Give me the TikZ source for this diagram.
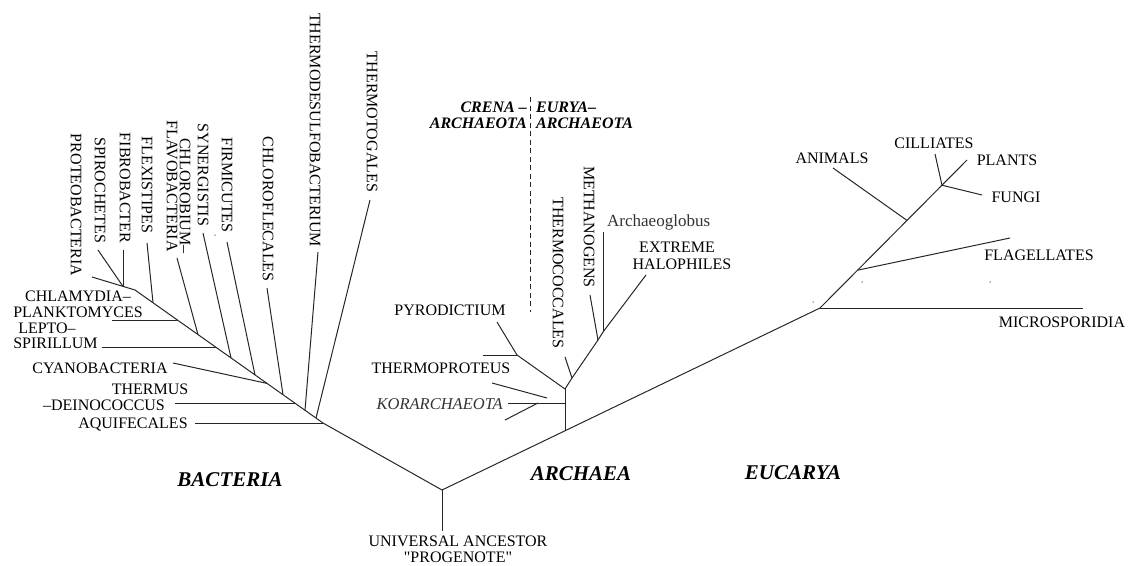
\documentclass[tikz,border=0pt]{standalone}
\usepackage{fontspec}
\setmainfont{Liberation Serif}
\begin{document}
\begin{tikzpicture}[x=1pt,y=-1pt,
  branch/.style={draw=black!85,line width=1pt},
  divider/.style={draw=black!85,line width=1pt,dash pattern=on 5pt off 3.5pt},
  lbl/.style={inner sep=0pt,text=black,font=\fontsize{16}{16}\selectfont},
  vlbl/.style={lbl,rotate=-90},
  ilbl/.style={inner sep=0pt,text=black!80,font=\fontsize{16.5}{16}\selectfont\itshape},
  slbl/.style={inner sep=0pt,text=black!80,font=\fontsize{17}{16}\selectfont},
  sublbl/.style={inner sep=0pt,text=black,font=\fontsize{16}{16}\selectfont\bfseries\itshape},
  domainlbl/.style={inner sep=0pt,text=black,font=\fontsize{21}{24}\selectfont\bfseries\itshape},
  speck/.style={fill=black!60,circle,inner sep=0pt,minimum size=1.5pt}
]
\useasboundingbox (0,0) rectangle (1135,565);

% ---------- root ----------
\coordinate (root) at (442,490);
\coordinate (stem) at (442,531);
\node[lbl,align=center] (anc) at (458,549.5) {UNIVERSAL ANCESTOR\\\textquotedbl PROGENOTE\textquotedbl};
\draw[branch] (root) -- (stem);

% ---------- Bacteria ----------
\coordinate (b0) at (323,423);
\coordinate (p0) at (135,290);
\coordinate (prTip) at (92,277);
\draw[branch] (root) -- (b0) -- (p0) -- (prTip);

\coordinate (aqTip) at (195,423);
\coordinate (tgBase) at (316,418);   \coordinate (tgTip) at (370,200);
\coordinate (tdBase) at (305,410.3); \coordinate (tdTip) at (318,252);
\coordinate (thBase) at (294.7,403); \coordinate (thTip) at (175,403);
\coordinate (cfBase) at (283,394.7); \coordinate (cfTip) at (267,288);
\coordinate (cyBase) at (267,383.4); \coordinate (cyTip) at (173,363);
\coordinate (fmBase) at (255,374.9); \coordinate (fmTip) at (227,242);
\coordinate (syBase) at (231,357.9); \coordinate (syTip) at (203,233);
\coordinate (lpBase) at (215.6,347); \coordinate (lpTip) at (102,347);
\coordinate (cbBase) at (198,334.6); \coordinate (cbTip) at (177,258);
\coordinate (clBase) at (177.4,320); \coordinate (clTip) at (112,320);
\coordinate (fxBase) at (153,302.7); \coordinate (fxTip) at (147,243);
\coordinate (sfJ) at (123,286.4);
\coordinate (spTip) at (98,250);
\coordinate (fbTip) at (123,250);

\draw[branch] (b0) -- (aqTip);
\draw[branch] (tgBase) -- (tgTip);
\draw[branch] (tdBase) -- (tdTip);
\draw[branch] (thBase) -- (thTip);
\draw[branch] (cfBase) -- (cfTip);
\draw[branch] (cyBase) -- (cyTip);
\draw[branch] (fmBase) -- (fmTip);
\draw[branch] (syBase) -- (syTip);
\draw[branch] (lpBase) -- (lpTip);
\draw[branch] (cbBase) -- (cbTip);
\draw[branch] (clBase) -- (clTip);
\draw[branch] (fxBase) -- (fxTip);
\draw[branch] (sfJ) -- (spTip);
\draw[branch] (sfJ) -- (fbTip);

\node[vlbl] (tgL) at (372,122) {THERMOTOGALES};
\node[vlbl] (tdL) at (315,130) {THERMODESULFOBACTERIUM};
\node[vlbl] (cfL) at (268,209) {CHLOROFLECALES};
\node[vlbl] (fmL) at (227,185) {FIRMICUTES};
\node[vlbl] (syL) at (203,175) {SYNERGISTIS};
\node[vlbl] (cbL) at (185,196) {CHLOROBIUM–};
\node[vlbl] (fvL) at (172,186) {FLAVOBACTERIA};
\node[vlbl] (fxL) at (147,185) {FLEXISTIPES};
\node[vlbl] (fbL) at (125,188) {FIBROBACTER};
\node[vlbl] (spL) at (100,190) {SPIROCHETES};
\node[vlbl] (prL) at (76,205) {PROTEOBACTERIA};

\node[lbl,align=center] (clL) at (78,304) {CHLAMYDIA–\\PLANKTOMYCES};
\node[lbl] (leL) at (47,328.5) {LEPTO–};
\node[lbl] (spiL) at (55.5,343.5) {SPIRILLUM};
\node[lbl] (cyL) at (100,368) {CYANOBACTERIA};
\node[lbl] (thL) at (150,389) {THERMUS};
\node[lbl] (deL) at (104,405) {–DEINOCOCCUS};
\node[lbl] (aqL) at (133,424) {AQUIFECALES};

% ---------- Archaea ----------
\coordinate (E) at (820,308);
\draw[branch] (root) -- (E);

\coordinate (A0) at (565,431);
\coordinate (A1) at (565,389);
\coordinate (K0) at (565,403);
\coordinate (kTip) at (508,403);
\coordinate (kA1) at (492,383); \coordinate (kA2) at (547,398);
\coordinate (kB1) at (505,420); \coordinate (kB2) at (538,403);
\draw[branch] (A0) -- (A1);
\draw[branch] (K0) -- (kTip);
\draw[branch] (kA1) -- (kA2);
\draw[branch] (kB1) -- (kB2);

% Crenarchaeota
\coordinate (C1) at (517,355);
\coordinate (pyTip) at (497,322);
\coordinate (tpTip) at (483,355);
\draw[branch] (A1) -- (C1) -- (pyTip);
\draw[branch] (C1) -- (tpTip);

% Euryarchaeota
\coordinate (T1) at (572,378);
\coordinate (M1) at (598,340);
\coordinate (H1) at (603,332);
\coordinate (tcTip) at (565,357);
\coordinate (mtTip) at (590,295);
\coordinate (agTip) at (603,232);
\coordinate (hlTip) at (646,275);
\draw[branch] (A1) -- (T1) -- (M1) -- (H1);
\draw[branch] (T1) -- (tcTip);
\draw[branch] (M1) -- (mtTip);
\draw[branch] (H1) -- (agTip);
\draw[branch] (H1) -- (hlTip);

% kingdom divider
\coordinate (dTop) at (530,97);
\coordinate (dBot) at (530,312);
\draw[divider] (dTop) -- (dBot);

\node[sublbl,align=right,anchor=east] (crL) at (527,115) {CRENA –\\ARCHAEOTA};
\node[sublbl,align=left,anchor=west] (euL) at (536,115) {EURYA–\\ARCHAEOTA};

\node[lbl] (pyL) at (450,310) {PYRODICTIUM};
\node[lbl] (tpL) at (441,368) {THERMOPROTEUS};
\node[ilbl,anchor=east] (koL) at (503,404) {KORARCHAEOTA};
\node[vlbl] (tcL) at (558,273) {THERMOCOCCALES};
\node[vlbl] (mtL) at (589,227) {METHANOGENS};
\node[slbl,anchor=west] (agL) at (607,222) {Archaeoglobus};
\node[lbl] (exL) at (677,247) {EXTREME};
\node[lbl] (haL) at (682,264) {HALOPHILES};

% ---------- Eucarya ----------
\coordinate (msTip) at (1083,308);
\coordinate (plTip) at (967,160);
\coordinate (flBase) at (857.5,270.2); \coordinate (flTip) at (1010,238);
\coordinate (anBase) at (907,220.4);   \coordinate (anTip) at (833,168);
\coordinate (pjBase) at (942,185.2);
\coordinate (ciTip) at (935,154);
\coordinate (fuTip) at (982,195);
\draw[branch] (E) -- (msTip);
\draw[branch] (E) -- (plTip);
\draw[branch] (flBase) -- (flTip);
\draw[branch] (anBase) -- (anTip);
\draw[branch] (pjBase) -- (ciTip);
\draw[branch] (pjBase) -- (fuTip);

\node[lbl] (anL) at (832,158) {ANIMALS};
\node[lbl] (ciL) at (934,143) {CILLIATES};
\node[lbl] (plL) at (1007,160) {PLANTS};
\node[lbl] (fuL) at (1016,197) {FUNGI};
\node[lbl] (flL) at (1039,255) {FLAGELLATES};
\node[lbl] (msL) at (1062,322) {MICROSPORIDIA};

% ---------- domains ----------
\node[domainlbl] (bacL) at (230,480) {BACTERIA};
\node[domainlbl] (arcL) at (581,474) {ARCHAEA};
\node[domainlbl] (eucL) at (793,473) {EUCARYA};

% stray specks
\node[speck] (s1) at (215,235) {};
\node[speck] (s2) at (862,282) {};
\node[speck] (s3) at (990,282) {};
\node[speck] (s4) at (813,302) {};
\end{tikzpicture}
\end{document}
